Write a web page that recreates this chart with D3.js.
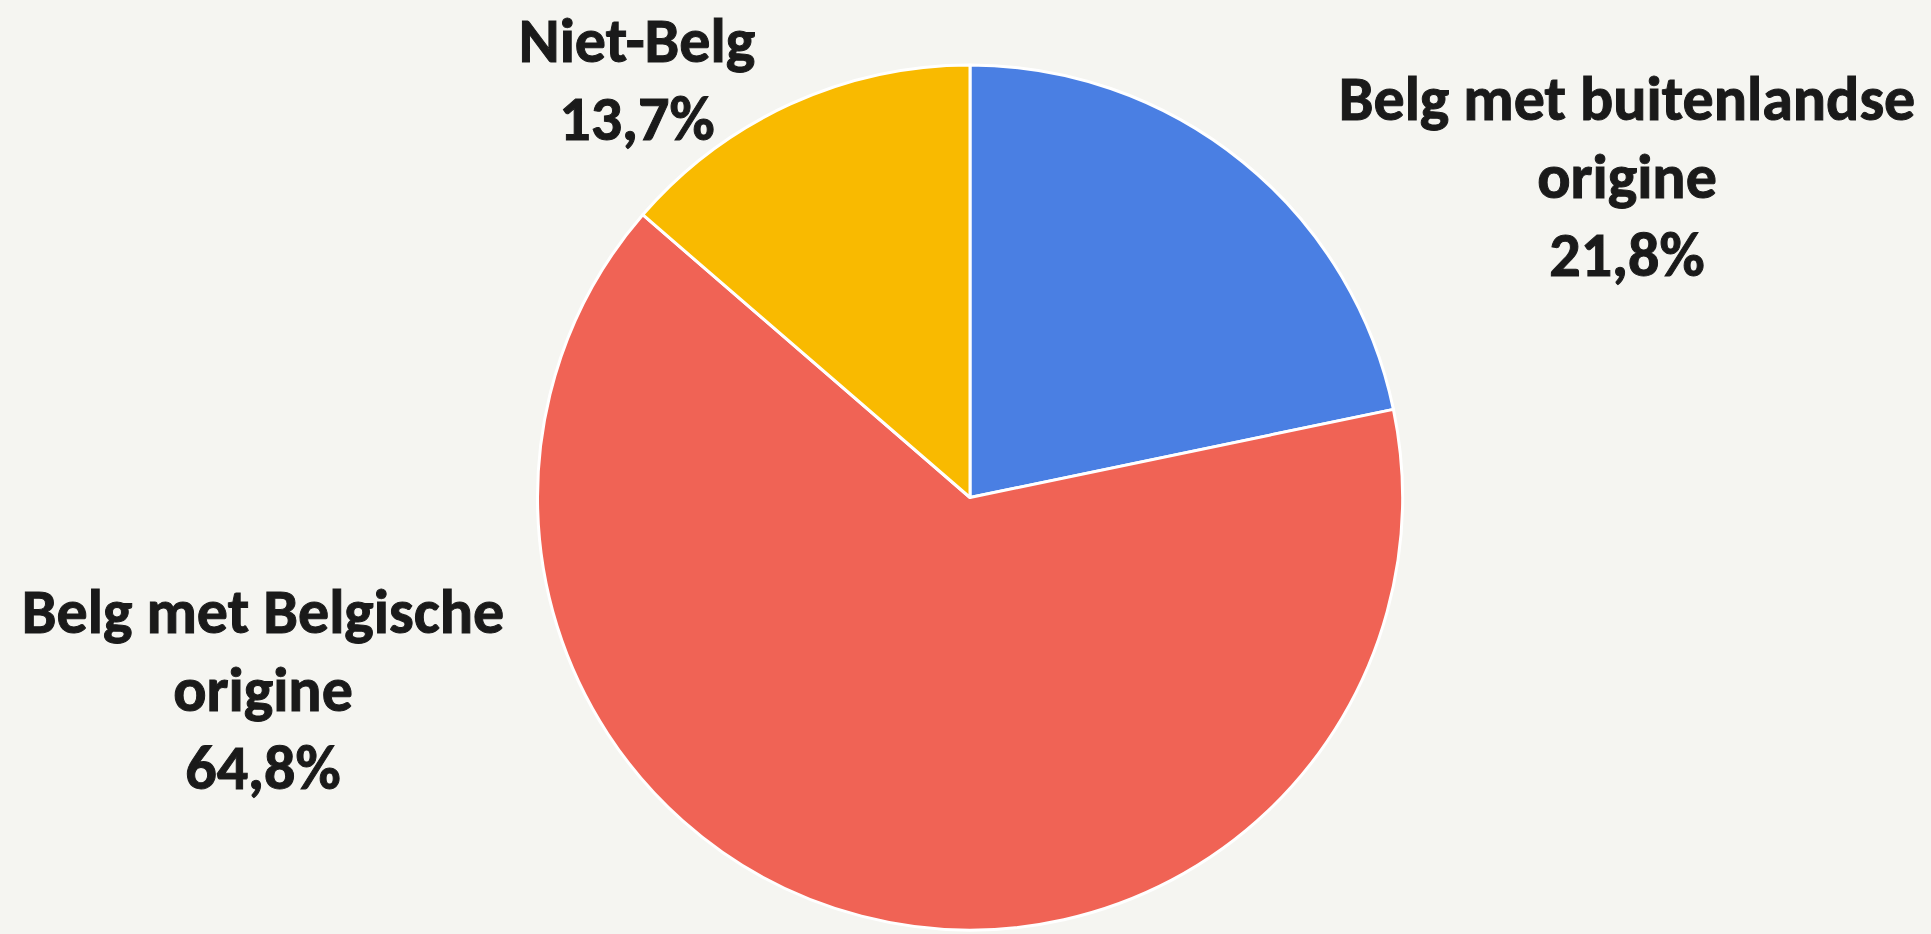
<!DOCTYPE html>
<html>
<head>
<meta charset="utf-8">
<script src="https://cdn.jsdelivr.net/npm/d3@7"></script>
<style>
  html, body { margin: 0; padding: 0; background: #f5f5f1; }
  svg { display: block; }
  text { font-family: Carlito, Calibri, Lato, sans-serif; font-weight: bold; fill: #1a1a1a; stroke: #1a1a1a; stroke-width: 1; }
</style>
</head>
<body>
<div id="chart"></div>
<script>
let width = 1931
let height = 934

// slices, clockwise from 12 o'clock
let categories = ['Belg met buitenlandse origine', 'Belg met Belgische origine', 'Niet-Belg']
let values = [21.8, 64.8, 13.7]
let labelLines = [
	['Belg met buitenlandse', 'origine', '21,8%'],
	['Belg met Belgische', 'origine', '64,8%'],
	['Niet-Belg', '13,7%']
]
let colors = ['#4a7fe3', '#f06355', '#f9ba00']

let cx = 970
let cy = 497.5
let radius = 432.5

// label anchor (centre x, first baseline)
let labelPos = [[1627, 120], [263, 633], [637, 62]]
let lineHeight = 78

const svg = d3.select('#chart')
	.append('svg')
	.attr('width', width)
	.attr('height', height)

let pie = d3.pie().sort(null).value(d => d)
let arc = d3.arc().innerRadius(0).outerRadius(radius)

let g = svg.append('g').attr('transform', `translate(${cx},${cy})`)

g.selectAll('path')
	.data(pie(values))
	.enter()
	.append('path')
	.attr('d', arc)
	.attr('fill', (d, i) => colors[i])
	.attr('stroke', '#ffffff')
	.attr('stroke-width', 3)
	.attr('stroke-linejoin', 'round')

let labels = svg.selectAll('.label')
	.data(labelLines)
	.enter()
	.append('text')
	.attr('class', 'label')
	.attr('text-anchor', 'middle')
	.attr('font-size', 62)

labels.selectAll('tspan')
	.data((d, i) => d.map(t => ({t: t, i: i})))
	.enter()
	.append('tspan')
	.attr('x', d => labelPos[d.i][0])
	.attr('y', (d, j) => labelPos[d.i][1] + j * lineHeight)
	.text(d => d.t)
</script>
</body>
</html>
